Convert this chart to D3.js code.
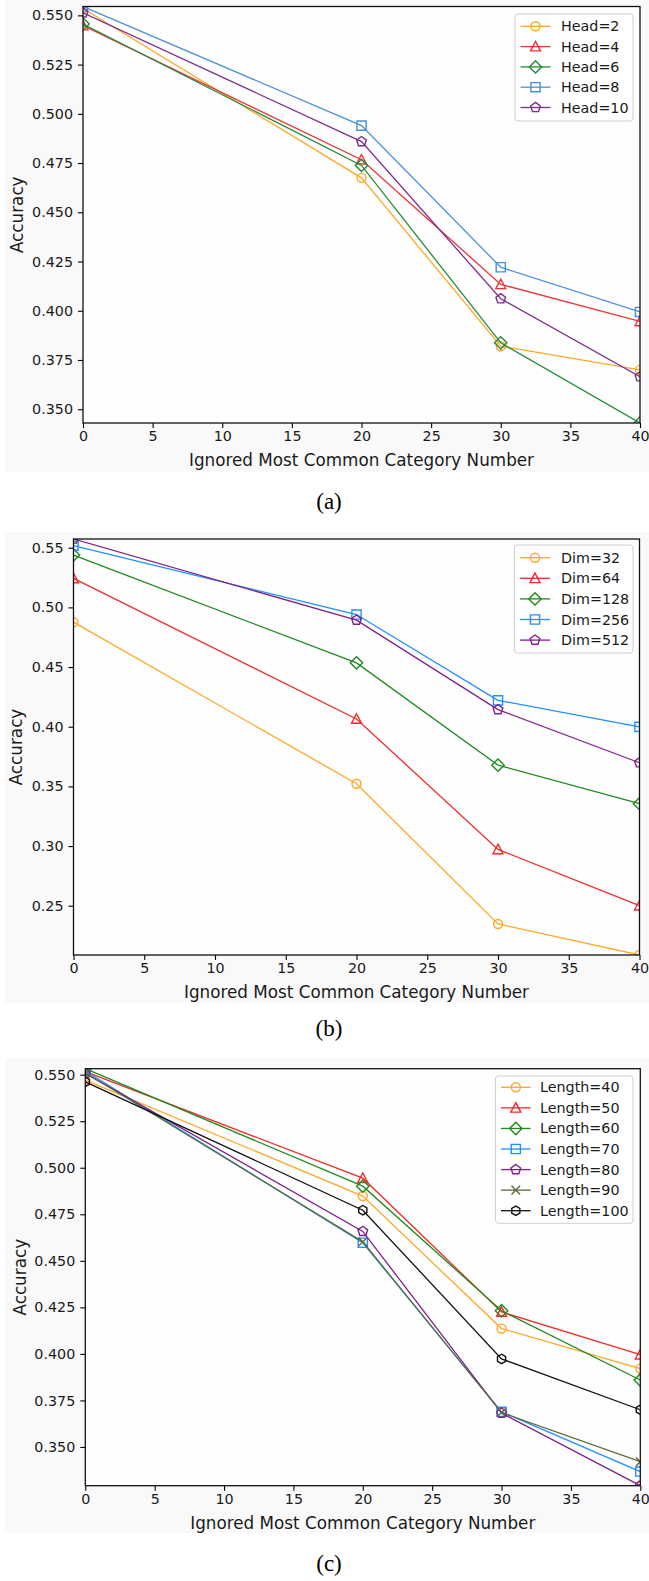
<!DOCTYPE html>
<html>
<head>
<meta charset="utf-8">
<script src="https://cdn.jsdelivr.net/npm/d3@7"></script>
<style>
  body { margin: 0; background: #ffffff; }
  svg { display: block; }
</style>
</head>
<body>
<script>
// ---- shared x axis ----
const xValues = [0, 20, 30, 40];
const xTicks = [0, 5, 10, 15, 20, 25, 30, 35, 40];
const xTitle = "Ignored Most Common Category Number";
const yTitle = "Accuracy";

// ---- (a) number of attention heads ----
const headLabels = ["Head=2", "Head=4", "Head=6", "Head=8", "Head=10"];
const head2  = [0.5535, 0.4675, 0.3820, 0.3700];
const head4  = [0.5448, 0.4767, 0.4134, 0.3946];
const head6  = [0.5456, 0.4738, 0.3837, 0.3430];
const head8  = [0.5545, 0.4940, 0.4221, 0.3994];
const head10 = [0.5513, 0.4859, 0.4061, 0.3665];
const yTicksA = [0.350, 0.375, 0.400, 0.425, 0.450, 0.475, 0.500, 0.525, 0.550];

// ---- (b) embedding dimension ----
const dimLabels = ["Dim=32", "Dim=64", "Dim=128", "Dim=256", "Dim=512"];
const dim32  = [0.4876, 0.3522, 0.2347, 0.2087];
const dim64  = [0.5243, 0.4065, 0.2972, 0.2500];
const dim128 = [0.5438, 0.4535, 0.3678, 0.3355];
const dim256 = [0.5517, 0.4940, 0.4221, 0.3999];
const dim512 = [0.5573, 0.4893, 0.4143, 0.3698];
const yTicksB = [0.25, 0.30, 0.35, 0.40, 0.45, 0.50, 0.55];

// ---- (c) sequence length ----
const lengthLabels = ["Length=40", "Length=50", "Length=60", "Length=70", "Length=80", "Length=90", "Length=100"];
const len40  = [0.5471, 0.4848, 0.4136, 0.3921];
const len50  = [0.5516, 0.4944, 0.4225, 0.3996];
const len60  = [0.5532, 0.4901, 0.4232, 0.3860];
const len70  = [0.5520, 0.4597, 0.3689, 0.3368];
const len80  = [0.5507, 0.4658, 0.3682, 0.3292];
const len90  = [0.5510, 0.4602, 0.3685, 0.3421];
const len100 = [0.5461, 0.4772, 0.3973, 0.3700];
const yTicksC = [0.350, 0.375, 0.400, 0.425, 0.450, 0.475, 0.500, 0.525, 0.550];

const captions = ["(a)", "(b)", "(c)"];

// ---- styling ----
const colorsA = ["#ffa726", "#f03232", "#228b3a", "#4a8fdc", "#7d2e8c"];
const colorsB = ["#ffa726", "#f52a2a", "#1e8a1e", "#1e90ff", "#80208a"];
const colorsC = ["#ffa726", "#f52a2a", "#1e8a1e", "#1e90ff", "#80208a", "#5b6b3c", "#111111"];
const markersA = ["circle", "triangle", "diamond", "square", "pentagon"];
const markersC = ["circle", "triangle", "diamond", "square", "pentagon", "x", "hexagon"];

const W = 649, H = 1581;
const FONT = "'DejaVu Sans', sans-serif";

const panels = [
  {
    labels: headLabels, series: [head2, head4, head6, head8, head10],
    colors: colorsA, markers: markersA, yTicks: yTicksA, fmt: ".3f", caption: captions[0],
    box: { left: 83, right: 640, top: 6.5, bottom: 423 },
    bg: { y0: 0, y1: 472 },
    legend: { x0: 515, x1: 633, y0: 14, y1: 121, firstY: 26.3, step: 20.3, lineX0: 520.5, lineX1: 550.5, textX: 561 },
    yTitleX: 17, capY: 509
  },
  {
    labels: dimLabels, series: [dim32, dim64, dim128, dim256, dim512],
    colors: colorsB, markers: markersA, yTicks: yTicksB, fmt: ".2f", caption: captions[1],
    box: { left: 73.5, right: 639.5, top: 539, bottom: 955 },
    bg: { y0: 532, y1: 1003 },
    legend: { x0: 514.5, x1: 633, y0: 545, y1: 653, firstY: 557.7, step: 20.6, lineX0: 520, lineX1: 550, textX: 561 },
    yTitleX: 16, capY: 1036
  },
  {
    labels: lengthLabels, series: [len40, len50, len60, len70, len80, len90, len100],
    colors: colorsC, markers: markersC, yTicks: yTicksC, fmt: ".3f", caption: captions[2],
    box: { left: 85.3, right: 640.3, top: 1068.7, bottom: 1485.7 },
    bg: { y0: 1058, y1: 1533 },
    legend: { x0: 495.5, x1: 633, y0: 1076, y1: 1223.3, firstY: 1087.3, step: 20.57, lineX0: 501, lineX1: 530.6, textX: 540 },
    yTitleX: 20, capY: 1571
  }
];

// marker shapes centred on (0,0)
function markerPath(type) {
  const p = d3.path();
  if (type === "circle") {
    p.arc(0, 0, 4.5, 0, 2 * Math.PI); p.closePath();
  } else if (type === "triangle") {
    p.moveTo(0, -5.2); p.lineTo(5, 4.3); p.lineTo(-5, 4.3); p.closePath();
  } else if (type === "diamond") {
    p.moveTo(0, -6.2); p.lineTo(6.2, 0); p.lineTo(0, 6.2); p.lineTo(-6.2, 0); p.closePath();
  } else if (type === "square") {
    p.rect(-4.6, -4.6, 9.2, 9.2);
  } else if (type === "pentagon" || type === "hexagon") {
    const n = type === "pentagon" ? 5 : 6;
    const r = type === "pentagon" ? 5.1 : 4.7;
    for (let i = 0; i < n; i++) {
      const a = -Math.PI / 2 + i * 2 * Math.PI / n;
      const px = r * Math.cos(a), py = r * Math.sin(a);
      if (i === 0) p.moveTo(px, py); else p.lineTo(px, py);
    }
    p.closePath();
  } else if (type === "x") {
    p.moveTo(-4.3, -4.3); p.lineTo(4.3, 4.3);
    p.moveTo(-4.3, 4.3); p.lineTo(4.3, -4.3);
  }
  return p.toString();
}

const svg = d3.select("body").append("svg")
  .attr("width", W).attr("height", H)
  .attr("viewBox", `0 0 ${W} ${H}`);

panels.forEach((pn, pi) => {
  const b = pn.box;
  const allVals = pn.series.flat();

  const x = d3.scaleLinear().domain(d3.extent(xTicks)).range([b.left, b.right]);
  const y = d3.scaleLinear().domain(d3.extent(allVals)).range([b.bottom, b.top]);

  const g = svg.append("g").attr("class", "panel-" + pi);

  // figure face and axes face
  g.append("rect").attr("x", 5).attr("y", pn.bg.y0)
    .attr("width", W - 5).attr("height", pn.bg.y1 - pn.bg.y0).attr("fill", "#f9f9f9");
  g.append("rect").attr("x", b.left).attr("y", b.top)
    .attr("width", b.right - b.left).attr("height", b.bottom - b.top).attr("fill", "#fefefe");

  const clipId = "clip-" + pi;
  svg.append("clipPath").attr("id", clipId).append("rect")
    .attr("x", b.left).attr("y", b.top)
    .attr("width", b.right - b.left).attr("height", b.bottom - b.top);

  // series lines and markers
  const plot = g.append("g").attr("clip-path", `url(#${clipId})`);
  const line = d3.line().x((d, i) => x(xValues[i])).y(d => y(d));
  pn.series.forEach((vals, si) => {
    const c = pn.colors[si];
    plot.append("path").datum(vals)
      .attr("d", line).attr("fill", "none")
      .attr("stroke", c).attr("stroke-width", 1.3);
    plot.selectAll(null).data(vals).enter().append("path")
      .attr("d", markerPath(pn.markers[si]))
      .attr("transform", (d, i) => `translate(${x(xValues[i])},${y(d)})`)
      .attr("fill", "none").attr("stroke", c).attr("stroke-width", 1.4);
  });

  // axes
  const xAxis = d3.axisBottom(x).tickValues(xTicks).tickFormat(d3.format("d"))
    .tickSize(5).tickPadding(3);
  const yAxis = d3.axisLeft(y).tickValues(pn.yTicks).tickFormat(d3.format(pn.fmt))
    .tickSize(5).tickPadding(5);

  const gx = g.append("g").attr("transform", `translate(0,${b.bottom})`).call(xAxis);
  const gy = g.append("g").attr("transform", `translate(${b.left},0)`).call(yAxis);
  [gx, gy].forEach(ax => {
    ax.select(".domain").remove();
    ax.selectAll(".tick line").attr("stroke", "#000").attr("stroke-width", 1.1);
    ax.selectAll(".tick text").attr("fill", "#1a1a1a").style("font-family", FONT).style("font-size", "14.3px");
  });

  // spines
  g.append("rect").attr("x", b.left).attr("y", b.top)
    .attr("width", b.right - b.left).attr("height", b.bottom - b.top)
    .attr("fill", "none").attr("stroke", "#111").attr("stroke-width", 1.3);

  // axis titles
  g.append("text")
    .attr("x", (b.left + b.right) / 2).attr("y", b.bottom + 43)
    .attr("text-anchor", "middle").attr("fill", "#1a1a1a")
    .style("font-family", FONT).style("font-size", "16.8px")
    .text(xTitle);
  g.append("text")
    .attr("transform", `translate(${pn.yTitleX},${(b.top + b.bottom) / 2}) rotate(-90)`)
    .attr("text-anchor", "middle").attr("dominant-baseline", "central").attr("fill", "#1a1a1a")
    .style("font-family", FONT).style("font-size", "16.8px")
    .text(yTitle);

  // legend
  const L = pn.legend;
  const lg = g.append("g");
  lg.append("rect").attr("x", L.x0).attr("y", L.y0)
    .attr("width", L.x1 - L.x0).attr("height", L.y1 - L.y0)
    .attr("rx", 3).attr("fill", "#ffffff").attr("fill-opacity", 0.85)
    .attr("stroke", "#cfcfcf").attr("stroke-width", 1);
  pn.labels.forEach((lab, si) => {
    const ly = L.firstY + si * L.step;
    const c = pn.colors[si];
    lg.append("line").attr("x1", L.lineX0).attr("x2", L.lineX1)
      .attr("y1", ly).attr("y2", ly).attr("stroke", c).attr("stroke-width", 1.3);
    lg.append("path").attr("d", markerPath(pn.markers[si]))
      .attr("transform", `translate(${(L.lineX0 + L.lineX1) / 2},${ly})`)
      .attr("fill", "none").attr("stroke", c).attr("stroke-width", 1.4);
    lg.append("text").attr("x", L.textX).attr("y", ly)
      .attr("dominant-baseline", "central").attr("fill", "#1a1a1a")
      .style("font-family", FONT).style("font-size", "14.3px")
      .text(lab);
  });

  // caption under each panel
  g.append("text").attr("x", 329).attr("y", pn.capY)
    .attr("text-anchor", "middle").attr("fill", "#000")
    .style("font-family", "'Liberation Serif', 'Times New Roman', serif")
    .style("font-size", "23px")
    .text(pn.caption);
});
</script>
</body>
</html>
